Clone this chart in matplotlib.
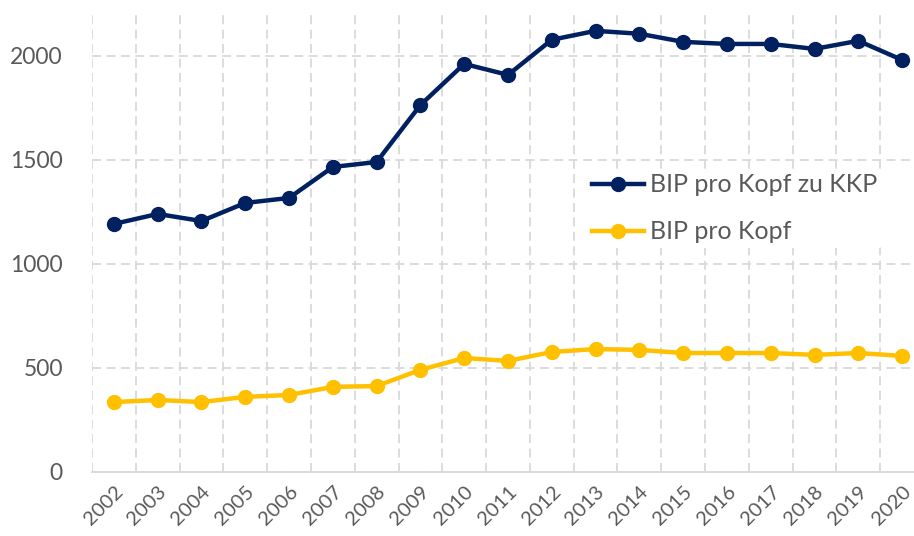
import matplotlib
matplotlib.use("Agg")
import matplotlib.pyplot as plt
import numpy as np

years = [str(y) for y in range(2002, 2021)]
kkp = [1192, 1240, 1206, 1293, 1317, 1466, 1490, 1764, 1962, 1909, 2078, 2121,
       2107, 2068, 2058, 2058, 2034, 2073, 1981]
bip = [335, 345, 335, 360, 369, 408, 412, 490, 547, 533, 576, 590,
       586, 571, 571, 571, 562, 571, 557]
labels = ["BIP pro Kopf zu KKP", "BIP pro Kopf"]
yticks = [0, 500, 1000, 1500, 2000]

plt.rcParams['font.family'] = ['Lato', 'DejaVu Sans']
W, H = 914, 536
fig = plt.figure(figsize=(W / 100, H / 100), dpi=100)
left, right, top, bottom = 92, 924, 14, 471.7
ax = fig.add_axes([left / W, 1 - bottom / H, (right - left) / W, (bottom - top) / H])

x = np.arange(len(years))
ax.plot(x, kkp, color='#002060', lw=3.2, marker='o', ms=10, label=labels[0], zorder=3)
ax.plot(x, bip, color='#FFC000', lw=3.2, marker='o', ms=10, label=labels[1], zorder=3)

ax.set_xlim(-0.5, len(years) - 0.5)
ax.set_ylim(0, 2202)
ax.set_yticks(yticks)
ax.set_yticklabels([str(v) for v in yticks], fontsize=16.5, color='#595959')
ax.set_xticks(x)
ax.set_xticklabels(years, rotation=45, ha='right', rotation_mode='anchor',
                   fontsize=14.5, color='#595959')
ax.set_xticks(np.arange(-0.5, len(years), 1), minor=True)
ax.tick_params(axis='x', which='major', length=0, pad=8)
ax.tick_params(axis='x', which='minor', length=0)
ax.tick_params(axis='y', length=0, pad=21)

for s in ['top', 'right', 'left']:
    ax.spines[s].set_visible(False)
ax.spines['bottom'].set_color('#d9d9d9')
ax.spines['bottom'].set_linewidth(1.3)

ax.grid(axis='y', which='major', color='#d9d9d9', ls=(0, (5, 3)), lw=1.3)
ax.grid(axis='x', which='minor', color='#d9d9d9', ls=(0, (5, 3)), lw=1.3)
ax.grid(axis='x', which='major', visible=False)
ax.set_axisbelow(True)

leg = ax.legend(loc='upper left', bbox_to_anchor=((574 - left) / (right - left), 1 - (156 - top) / (bottom - top)),
                frameon=True, facecolor='white', edgecolor='none', framealpha=1,
                fontsize=18, handlelength=2.1, handletextpad=0.25, labelspacing=0.95,
                borderpad=0.2)
for t in leg.get_texts():
    t.set_color('#595959')

fig.savefig('out.png', dpi=100)
